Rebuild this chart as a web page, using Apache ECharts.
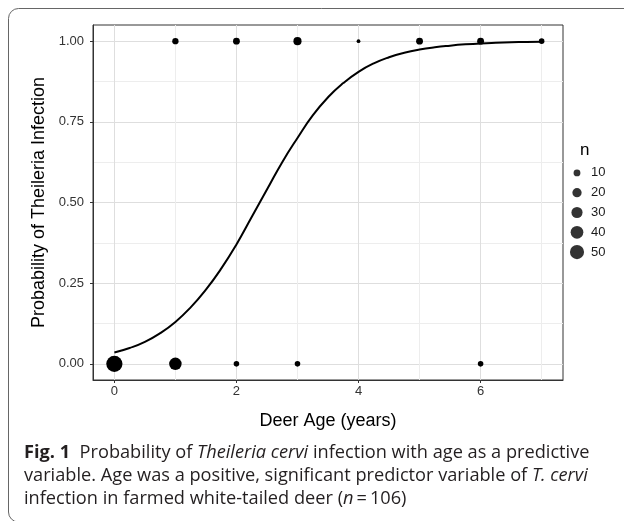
<!DOCTYPE html>
<html>
<head>
<meta charset="utf-8">
<script src="https://cdn.jsdelivr.net/npm/echarts@6/dist/echarts.min.js"></script>
<style>
  html, body { margin: 0; padding: 0; background: #fff; }
  #chart { width: 624px; height: 521px; }
</style>
</head>
<body>
<div id="chart"></div>
<script>
// ---- data ----
const xTicks = [0, 2, 4, 6];
const xMinorTicks = [1, 3, 5, 7];
const yTicks = [0, 0.25, 0.5, 0.75, 1];
const yMinorTicks = [0.125, 0.375, 0.625, 0.875];

// observed deer (age, infected 0/1, count n)
const pointAge      = [0, 1, 2, 3, 6, 1, 2, 3, 4, 5, 6, 7];
const pointInfected = [0, 0, 0, 0, 0, 1, 1, 1, 1, 1, 1, 1];
const pointCount    = [50, 25, 2, 2, 2, 3, 4, 7, 1, 4, 4, 2];

// fitted probability curve
const curveAge  = [0, 0.25, 0.5, 0.75, 1, 1.25, 1.5, 1.75, 2, 2.25, 2.5, 2.75, 3, 3.25, 3.5, 3.75, 4, 4.25, 4.5, 4.75, 5, 5.25, 5.5, 5.75, 6, 6.25, 6.5, 6.75, 7];
const curveProb = [0.035, 0.049, 0.068, 0.095, 0.13, 0.175, 0.23, 0.295, 0.37, 0.455, 0.54, 0.625, 0.70, 0.77, 0.826, 0.87, 0.905, 0.931, 0.95, 0.964, 0.974, 0.981, 0.986, 0.990, 0.993, 0.995, 0.9965, 0.9975, 0.998];

const legendBreaks = [10, 20, 30, 40, 50];

const xTitle = 'Deer Age (years)';
const yTitle = 'Probability of Theileria Infection';
const legendTitle = 'n';

// ---- sizing helpers ----
function pointSize(n) { return 3.8 + 12.4 * Math.sqrt((n - 1) / 49); }
function legendSize(n) { return 1.0 + 1.85 * Math.sqrt(n); }

const FONT = '"Liberation Sans", Arial, sans-serif';
const CAP_FONT = '"Open Sans", sans-serif';

const chart = echarts.init(document.getElementById('chart'), null, { renderer: 'canvas' });

const scatterData = pointAge.map((a, i) => [a, pointInfected[i], pointCount[i]]);
const curveData = curveAge.map((a, i) => [a, curveProb[i]]);
const legendData = legendBreaks.map((n, i) => [0.5, i, n]);

const option = {
  animation: false,
  backgroundColor: '#fff',
  textStyle: { fontFamily: FONT },
  grid: [
    { left: 93, top: 25, width: 470, height: 355, show: true, borderColor: '#333', borderWidth: 1, backgroundColor: '#fff' },
    { left: 570, top: 163, width: 14, height: 99 }
  ],
  xAxis: [
    {
      type: 'value', gridIndex: 0, min: -0.35, max: 7.35,
      axisLine: { show: true, onZero: false, lineStyle: { color: '#333', width: 1 } },
      axisTick: { show: true, length: 3, lineStyle: { color: '#333' }, customValues: xTicks },
      axisLabel: { customValues: xTicks, color: '#333', fontSize: 13, margin: 5, fontFamily: FONT },
      splitLine: { show: true, lineStyle: { color: '#dedede', width: 1 } },
      name: xTitle, nameLocation: 'middle', nameGap: 32,
      nameTextStyle: { fontSize: 18, color: '#000', fontFamily: FONT }
    },
    {
      type: 'value', gridIndex: 0, min: -0.35, max: 7.35, position: 'bottom',
      axisLine: { show: false, onZero: false },
      axisTick: { show: false, customValues: xMinorTicks },
      axisLabel: { show: false, customValues: xMinorTicks },
      splitLine: { show: true, lineStyle: { color: '#ededed', width: 1 } }
    },
    {
      type: 'value', gridIndex: 1, min: 0, max: 1, show: false
    }
  ],
  yAxis: [
    {
      type: 'value', gridIndex: 0, min: -0.05, max: 1.05,
      axisLine: { show: true, onZero: false, lineStyle: { color: '#333', width: 1 } },
      axisTick: { show: true, length: 3, lineStyle: { color: '#333' }, customValues: yTicks },
      axisLabel: { customValues: yTicks, color: '#333', fontSize: 13, margin: 9, fontFamily: FONT,
                   formatter: v => v.toFixed(2) },
      splitLine: { show: true, lineStyle: { color: '#dedede', width: 1 } },
      name: yTitle, nameLocation: 'middle', nameGap: 37,
      nameTextStyle: { fontSize: 18, color: '#000', fontFamily: FONT }
    },
    {
      type: 'value', gridIndex: 0, min: -0.05, max: 1.05, position: 'left',
      axisLine: { show: false, onZero: false },
      axisTick: { show: false, customValues: yMinorTicks },
      axisLabel: { show: false, customValues: yMinorTicks },
      splitLine: { show: true, lineStyle: { color: '#ededed', width: 1 } }
    },
    {
      type: 'category', gridIndex: 1, inverse: true, position: 'right',
      data: legendBreaks.map(String),
      axisLine: { show: false }, axisTick: { show: false }, splitLine: { show: false },
      axisLabel: { color: '#1a1a1a', fontSize: 13, margin: 7, fontFamily: FONT }
    }
  ],
  series: [
    {
      type: 'scatter', xAxisIndex: 0, yAxisIndex: 0, z: 3,
      data: scatterData,
      symbol: 'circle',
      symbolSize: d => pointSize(d[2]),
      itemStyle: { color: '#000', opacity: 1 }
    },
    {
      type: 'line', xAxisIndex: 0, yAxisIndex: 0, z: 4,
      data: curveData, smooth: true, showSymbol: false, symbol: 'none',
      lineStyle: { color: '#000', width: 2 }
    },
    {
      type: 'scatter', xAxisIndex: 2, yAxisIndex: 2,
      data: legendData,
      symbol: 'circle',
      symbolSize: d => legendSize(d[2]),
      itemStyle: { color: '#000' }
    }
  ],
  graphic: [
    {
      type: 'rect', silent: true, z: 10,
      shape: { x: 8.5, y: 8.5, width: 640, height: 513.5, r: 10 },
      style: { fill: 'none', stroke: '#666', lineWidth: 1 }
    },
    {
      type: 'text', left: 580, top: 142, silent: true,
      style: { text: legendTitle, fill: '#000', font: '17px ' + FONT }
    },
    {
      type: 'text', left: 24, top: 441, silent: true,
      style: {
        text: '{b|Fig. 1}  Probability of {i|Theileria cervi} infection with age as a predictive\n' +
              'variable. Age was a positive, significant predictor variable of {i|T. cervi}\n' +
              'infection in farmed white-tailed deer ({i|n}\u2009=\u2009106)',
        fontFamily: CAP_FONT, fontSize: 18.2, fill: '#231f20', lineHeight: 23,
        rich: {
          b: { fontWeight: 'bold', fontFamily: CAP_FONT, fontSize: 18.2, fill: '#231f20', lineHeight: 23 },
          i: { fontStyle: 'italic', fontFamily: CAP_FONT, fontSize: 18.2, fill: '#231f20', lineHeight: 23 }
        }
      }
    }
  ]
};

chart.setOption(option);
</script>
</body>
</html>
